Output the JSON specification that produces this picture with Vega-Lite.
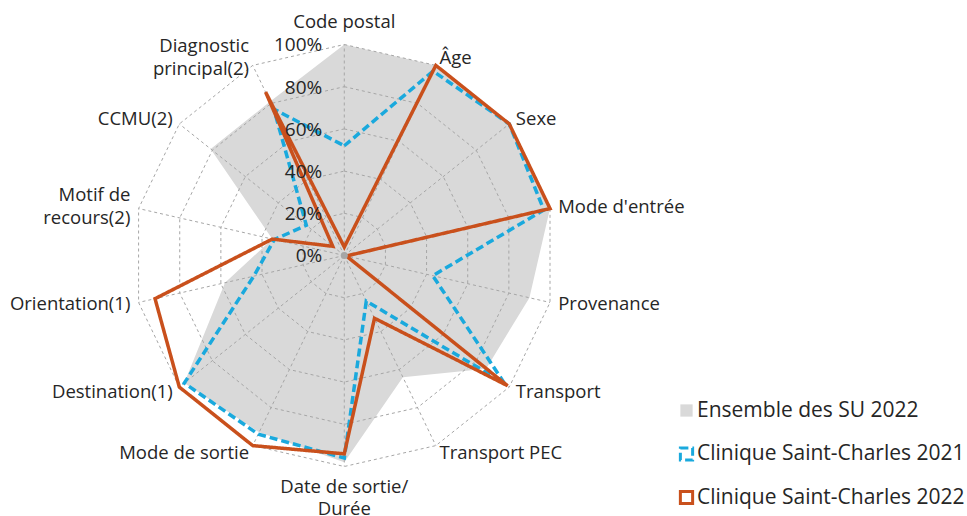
{
  "$schema": "https://vega.github.io/schema/vega-lite/v6.json",
  "width": 967,
  "height": 516,
  "padding": 0,
  "autosize": "none",
  "config": {"view": {"stroke": null}, "font": "Open Sans", "text": {"color": "#262626"}},
  "datasets": {
    "cats": [
      {"idx": 0, "axis": "Code postal"},
      {"idx": 1, "axis": "Âge"},
      {"idx": 2, "axis": "Sexe"},
      {"idx": 3, "axis": "Mode d'entrée"},
      {"idx": 4, "axis": "Provenance"},
      {"idx": 5, "axis": "Transport"},
      {"idx": 6, "axis": "Transport PEC"},
      {"idx": 7, "axis": "Date de sortie/\nDurée"},
      {"idx": 8, "axis": "Mode de sortie"},
      {"idx": 9, "axis": "Destination(1)"},
      {"idx": 10, "axis": "Orientation(1)"},
      {"idx": 11, "axis": "Motif de\nrecours(2)"},
      {"idx": 12, "axis": "CCMU(2)"},
      {"idx": 13, "axis": "Diagnostic\nprincipal(2)"}
    ],
    "ticks": [
      {"level": 0, "label": "0%"},
      {"level": 20, "label": "20%"},
      {"level": 40, "label": "40%"},
      {"level": 60, "label": "60%"},
      {"level": 80, "label": "80%"},
      {"level": 100, "label": "100%"}
    ],
    "series": [
      {"series": "Ensemble des SU 2022", "idx": 0, "value": 100},
      {"series": "Ensemble des SU 2022", "idx": 1, "value": 100},
      {"series": "Ensemble des SU 2022", "idx": 2, "value": 100},
      {"series": "Ensemble des SU 2022", "idx": 3, "value": 100},
      {"series": "Ensemble des SU 2022", "idx": 4, "value": 90},
      {"series": "Ensemble des SU 2022", "idx": 5, "value": 86},
      {"series": "Ensemble des SU 2022", "idx": 6, "value": 64},
      {"series": "Ensemble des SU 2022", "idx": 7, "value": 98},
      {"series": "Ensemble des SU 2022", "idx": 8, "value": 93},
      {"series": "Ensemble des SU 2022", "idx": 9, "value": 97},
      {"series": "Ensemble des SU 2022", "idx": 10, "value": 58},
      {"series": "Ensemble des SU 2022", "idx": 11, "value": 35},
      {"series": "Ensemble des SU 2022", "idx": 12, "value": 81},
      {"series": "Ensemble des SU 2022", "idx": 13, "value": 81},
      {"series": "Clinique Saint-Charles 2021", "idx": 0, "value": 52},
      {"series": "Clinique Saint-Charles 2021", "idx": 1, "value": 97},
      {"series": "Clinique Saint-Charles 2021", "idx": 2, "value": 100},
      {"series": "Clinique Saint-Charles 2021", "idx": 3, "value": 97},
      {"series": "Clinique Saint-Charles 2021", "idx": 4, "value": 43},
      {"series": "Clinique Saint-Charles 2021", "idx": 5, "value": 97},
      {"series": "Clinique Saint-Charles 2021", "idx": 6, "value": 24},
      {"series": "Clinique Saint-Charles 2021", "idx": 7, "value": 96},
      {"series": "Clinique Saint-Charles 2021", "idx": 8, "value": 94},
      {"series": "Clinique Saint-Charles 2021", "idx": 9, "value": 97},
      {"series": "Clinique Saint-Charles 2021", "idx": 10, "value": 44},
      {"series": "Clinique Saint-Charles 2021", "idx": 11, "value": 34},
      {"series": "Clinique Saint-Charles 2021", "idx": 12, "value": 23},
      {"series": "Clinique Saint-Charles 2021", "idx": 13, "value": 77},
      {"series": "Clinique Saint-Charles 2022", "idx": 0, "value": 4},
      {"series": "Clinique Saint-Charles 2022", "idx": 1, "value": 100},
      {"series": "Clinique Saint-Charles 2022", "idx": 2, "value": 100},
      {"series": "Clinique Saint-Charles 2022", "idx": 3, "value": 100},
      {"series": "Clinique Saint-Charles 2022", "idx": 4, "value": 1},
      {"series": "Clinique Saint-Charles 2022", "idx": 5, "value": 99},
      {"series": "Clinique Saint-Charles 2022", "idx": 6, "value": 33},
      {"series": "Clinique Saint-Charles 2022", "idx": 7, "value": 94},
      {"series": "Clinique Saint-Charles 2022", "idx": 8, "value": 100},
      {"series": "Clinique Saint-Charles 2022", "idx": 9, "value": 100},
      {"series": "Clinique Saint-Charles 2022", "idx": 10, "value": 92},
      {"series": "Clinique Saint-Charles 2022", "idx": 11, "value": 35},
      {"series": "Clinique Saint-Charles 2022", "idx": 12, "value": 7},
      {"series": "Clinique Saint-Charles 2022", "idx": 13, "value": 86}
    ]
  },
  "layer": [
    {
      "data": {"name": "series"},
      "transform": [
        {"filter": "datum.series == 'Ensemble des SU 2022'"},
        {"calculate": "datum.value * sin(datum.idx * PI / 7)", "as": "x"},
        {"calculate": "datum.value * cos(datum.idx * PI / 7)", "as": "y"}
      ],
      "mark": {"type": "line", "interpolate": "linear-closed", "fill": "#D9D9D9", "strokeWidth": 0},
      "encoding": {
        "x": {"field": "x", "type": "quantitative", "scale": {"domain": [-163.17, 295.12], "nice": false, "zero": false}, "axis": null},
        "y": {"field": "y", "type": "quantitative", "scale": {"domain": [-123.46, 121.09], "nice": false, "zero": false}, "axis": null},
        "order": {"field": "idx", "type": "quantitative"}
      }
    },
    {
      "data": {"name": "cats"},
      "transform": [
        {"calculate": "[20, 40, 60, 80, 100]", "as": "lv"},
        {"flatten": ["lv"]},
        {"calculate": "datum.lv * sin(datum.idx * PI / 7)", "as": "x"},
        {"calculate": "datum.lv * cos(datum.idx * PI / 7)", "as": "y"}
      ],
      "mark": {"type": "line", "interpolate": "linear-closed", "stroke": "#A6A6A6", "strokeWidth": 1, "strokeDash": [3, 3]},
      "encoding": {
        "x": {"field": "x", "type": "quantitative", "scale": {"domain": [-163.17, 295.12], "nice": false, "zero": false}, "axis": null},
        "y": {"field": "y", "type": "quantitative", "scale": {"domain": [-123.46, 121.09], "nice": false, "zero": false}, "axis": null},
        "order": {"field": "idx", "type": "quantitative"},
        "detail": {"field": "lv", "type": "nominal"}
      }
    },
    {
      "data": {"name": "cats"},
      "transform": [
        {"calculate": "100 * sin(datum.idx * PI / 7)", "as": "x"},
        {"calculate": "100 * cos(datum.idx * PI / 7)", "as": "y"},
        {"calculate": "0", "as": "x0"},
        {"calculate": "0", "as": "y0"}
      ],
      "mark": {"type": "rule", "stroke": "#A6A6A6", "strokeWidth": 1, "strokeDash": [3, 3]},
      "encoding": {
        "x": {"field": "x0", "type": "quantitative", "scale": {"domain": [-163.17, 295.12], "nice": false, "zero": false}, "axis": null},
        "y": {"field": "y0", "type": "quantitative", "scale": {"domain": [-123.46, 121.09], "nice": false, "zero": false}, "axis": null},
        "x2": {"field": "x"},
        "y2": {"field": "y"}
      }
    },
    {
      "data": {"name": "series"},
      "transform": [
        {"filter": "datum.series != 'Ensemble des SU 2022'"},
        {"calculate": "datum.value * sin(datum.idx * PI / 7)", "as": "x"},
        {"calculate": "datum.value * cos(datum.idx * PI / 7)", "as": "y"}
      ],
      "mark": {"type": "line", "interpolate": "linear-closed", "strokeJoin": "miter", "strokeWidth": 3.5},
      "encoding": {
        "x": {"field": "x", "type": "quantitative", "scale": {"domain": [-163.17, 295.12], "nice": false, "zero": false}, "axis": null},
        "y": {"field": "y", "type": "quantitative", "scale": {"domain": [-123.46, 121.09], "nice": false, "zero": false}, "axis": null},
        "order": {"field": "idx", "type": "quantitative"},
        "stroke": {
          "field": "series", "type": "nominal",
          "scale": {"domain": ["Ensemble des SU 2022", "Clinique Saint-Charles 2021", "Clinique Saint-Charles 2022"], "range": ["transparent", "#1AA9DD", "#C9501C"]},
          "legend": {"title": null, "orient": "none", "legendX": 676, "legendY": 400, "symbolType": "square", "symbolSize": 150, "symbolStrokeWidth": 3, "symbolOpacity": 1, "labelFontSize": 21, "labelColor": "#262626", "labelLimit": 400, "rowPadding": 18.5, "labelOffset": 0}
        },
        "strokeDash": {
          "field": "series", "type": "nominal",
          "scale": {"domain": ["Ensemble des SU 2022", "Clinique Saint-Charles 2021", "Clinique Saint-Charles 2022"], "range": [[1, 0], [8, 4], [1, 0]]},
          "legend": {"title": null, "orient": "none", "legendX": 676, "legendY": 400, "symbolType": "square", "symbolSize": 150, "symbolStrokeWidth": 3, "symbolOpacity": 1, "labelFontSize": 21, "labelColor": "#262626", "labelLimit": 400, "rowPadding": 18.5, "labelOffset": 0}
        }
      }
    },
    {
      "data": {"name": "series"},
      "transform": [
        {"filter": "datum.idx == 0"},
        {"calculate": "datum.value * sin(datum.idx * PI / 7)", "as": "x"},
        {"calculate": "datum.value * cos(datum.idx * PI / 7)", "as": "y"}
      ],
      "mark": {"type": "square", "opacity": 0, "size": 10},
      "encoding": {
        "x": {"field": "x", "type": "quantitative", "scale": {"domain": [-163.17, 295.12], "nice": false, "zero": false}, "axis": null},
        "y": {"field": "y", "type": "quantitative", "scale": {"domain": [-123.46, 121.09], "nice": false, "zero": false}, "axis": null},
        "fill": {
          "field": "series", "type": "nominal",
          "scale": {"domain": ["Ensemble des SU 2022", "Clinique Saint-Charles 2021", "Clinique Saint-Charles 2022"], "range": ["#D9D9D9", "transparent", "transparent"]},
          "legend": {"title": null, "orient": "none", "legendX": 676, "legendY": 400, "symbolType": "square", "symbolSize": 150, "symbolStrokeWidth": 3, "symbolOpacity": 1, "labelFontSize": 21, "labelColor": "#262626", "labelLimit": 400, "rowPadding": 18.5, "labelOffset": 0}
        }
      }
    },
    {
      "data": {"values": [{"x": 0, "y": 0}]},
      "mark": {"type": "point", "filled": true, "color": "#A6A6A6", "size": 50, "opacity": 1},
      "encoding": {
        "x": {"field": "x", "type": "quantitative", "scale": {"domain": [-163.17, 295.12], "nice": false, "zero": false}, "axis": null},
        "y": {"field": "y", "type": "quantitative", "scale": {"domain": [-123.46, 121.09], "nice": false, "zero": false}, "axis": null}
      }
    },
    {
      "data": {"name": "ticks"},
      "transform": [{"calculate": "0", "as": "x0"}],
      "mark": {"type": "text", "align": "right", "baseline": "middle", "dx": -22, "dy": 1, "fontSize": 19},
      "encoding": {
        "x": {"field": "x0", "type": "quantitative", "scale": {"domain": [-163.17, 295.12], "nice": false, "zero": false}, "axis": null},
        "y": {"field": "level", "type": "quantitative", "scale": {"domain": [-123.46, 121.09], "nice": false, "zero": false}, "axis": null},
        "text": {"field": "label", "type": "nominal"}
      }
    },
    {
      "data": {"name": "cats"},
      "transform": [
        {"filter": "datum.idx >= 1 && datum.idx <= 6"},
        {"calculate": "104 * sin(datum.idx * PI / 7)", "as": "x"},
        {"calculate": "104 * cos(datum.idx * PI / 7)", "as": "y"}
      ],
      "mark": {"type": "text", "align": "left", "baseline": "middle", "fontSize": 18.5, "lineBreak": "\n", "lineHeight": 23.5},
      "encoding": {
        "x": {"field": "x", "type": "quantitative", "scale": {"domain": [-163.17, 295.12], "nice": false, "zero": false}, "axis": null},
        "y": {"field": "y", "type": "quantitative", "scale": {"domain": [-123.46, 121.09], "nice": false, "zero": false}, "axis": null},
        "text": {"field": "axis", "type": "nominal"}
      }
    },
    {
      "data": {"name": "cats"},
      "transform": [
        {"filter": "datum.idx >= 8"},
        {"calculate": "104 * sin(datum.idx * PI / 7)", "as": "x"},
        {"calculate": "104 * cos(datum.idx * PI / 7) + (indexof(datum.axis, '\\n') >= 0 ? 5.6 : 0)", "as": "y"}
      ],
      "mark": {"type": "text", "align": "right", "baseline": "middle", "fontSize": 18.5, "lineBreak": "\n", "lineHeight": 23.5},
      "encoding": {
        "x": {"field": "x", "type": "quantitative", "scale": {"domain": [-163.17, 295.12], "nice": false, "zero": false}, "axis": null},
        "y": {"field": "y", "type": "quantitative", "scale": {"domain": [-123.46, 121.09], "nice": false, "zero": false}, "axis": null},
        "text": {"field": "axis", "type": "nominal"}
      }
    },
    {
      "data": {"name": "cats"},
      "transform": [
        {"filter": "datum.idx == 0 || datum.idx == 7"},
        {"calculate": "0", "as": "x"},
        {"calculate": "datum.idx == 0 ? 110.5 : -109.7", "as": "y"}
      ],
      "mark": {"type": "text", "align": "center", "baseline": "middle", "fontSize": 18.5, "lineBreak": "\n", "lineHeight": 22},
      "encoding": {
        "x": {"field": "x", "type": "quantitative", "scale": {"domain": [-163.17, 295.12], "nice": false, "zero": false}, "axis": null},
        "y": {"field": "y", "type": "quantitative", "scale": {"domain": [-123.46, 121.09], "nice": false, "zero": false}, "axis": null},
        "text": {"field": "axis", "type": "nominal"}
      }
    }
  ]
}
